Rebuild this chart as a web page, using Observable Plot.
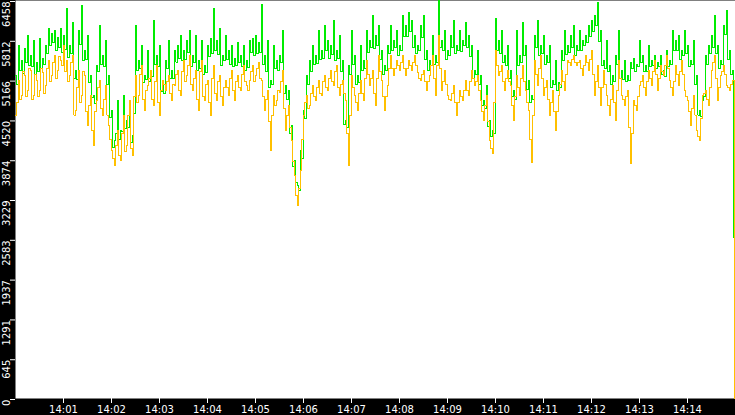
<!DOCTYPE html>
<html>
<head>
<meta charset="utf-8">
<script src="https://cdn.jsdelivr.net/npm/d3@7"></script>
<script src="https://cdn.jsdelivr.net/npm/@observablehq/plot@0.6"></script>
<style>
  html, body { margin: 0; padding: 0; background: #000; }
  #chart { width: 735px; height: 415px; overflow: hidden; }
</style>
</head>
<body>
<div id="chart"></div>
<script>
// ---- data ----
const startTime = "14:00:00";      // first sample
const endTime = "14:15:00";        // right edge of the chart
const sampleSeconds = 1.875;       // nominal spacing of samples
const clockSeconds = 1.25;         // timestamps are recorded on this clock
const greenLastSeconds = 897.5;    // time of green's final (drop) sample
const orangeLastSeconds = 898.75;  // time of orange's final (drop) sample

const xTickLabels = ["14:01","14:02","14:03","14:04","14:05","14:06","14:07","14:08","14:09","14:10","14:11","14:12","14:13","14:14"];
const yTickLabels = ["0","645","1291","1937","2583","3229","3874","4520","5166","5812","6458"];

const greenValues = [
  5241,5090,5728,5330,5484,5280,5679,5450,5890,5410,5566,5390,5809,5260,5452,5300,5842,5350,5517,5420,
  5728,5600,6004,5720,5923,5780,5971,5650,5858,5700,6004,5620,5890,5660,6328,5530,5728,5590,6101,5200,
  5322,5180,5971,5750,6377,5480,5647,5500,5890,5120,5241,4880,4917,4790,5403,5300,6052,5420,5566,5380,
  5809,5100,5241,4560,4673,4080,4186,4300,4835,4200,4349,4330,4917,4380,4511,4400,4673,4150,4267,4620,
  6052,5330,5484,5350,5728,5120,5241,5180,5647,5150,5322,5230,6133,5420,5566,5390,5728,4980,5079,4950,
  5484,5350,5809,5200,5322,5190,5647,5460,5728,5520,5890,5480,5647,5500,5809,5620,5971,5380,5566,5450,
  5890,5320,5484,5350,5809,5260,5403,5290,5728,5550,5842,5600,6328,5650,5809,5580,6004,5400,5566,5480,
  5890,5500,5647,5420,5728,5380,5517,5400,5777,5450,5566,5390,5728,5330,5484,5370,5809,5620,5842,5560,
  5890,5600,5777,5620,6393,5420,5566,5300,5809,5050,5160,5090,5728,5350,5484,5330,5566,5450,5971,4950,
  5079,4850,4998,4300,4430,3760,3862,3500,3456,3380,4024,3900,4673,4550,5241,5100,5484,5300,5728,5420,
  5566,5430,5971,5500,5647,5510,6052,5650,5809,5520,5728,5580,6133,5490,5647,5520,5890,5300,5484,4450,
  4511,4400,5403,5250,5971,5420,5566,5100,5241,5120,5728,5330,5484,5360,5971,5620,5809,5700,6215,5680,
  5890,5720,6052,5500,5647,5250,5403,5330,5728,5600,6052,5650,5809,5700,5971,5560,5728,5640,6215,5880,
  6052,5880,6263,5950,6133,5700,5890,5600,5728,5650,6052,5850,6215,5500,5647,5320,5484,5400,5890,5420,
  5566,5450,6458,5700,5809,5650,5971,5500,5647,5560,5890,5700,6133,5600,5728,5650,5971,5630,5809,5720,
  6101,5700,5890,5550,5728,5200,5322,5250,5647,5100,5241,4750,4835,4700,5079,4420,4511,4250,4349,4300,
  6166,5650,5809,5600,5971,5450,5566,5400,5728,5200,5322,4900,4998,4850,5971,5400,5566,5450,6101,5560,
  5728,5020,5160,4800,4917,4850,5890,5700,6133,5560,5728,5590,5890,5420,5566,5450,5728,5050,5160,5100,
  5484,5000,5128,5050,5647,5480,5971,5580,5728,5620,5890,5700,6052,5560,5728,5640,5971,5650,5809,5720,
  5890,5780,6052,5880,6133,5950,6215,6050,6426,5800,5971,5400,5484,5350,5809,5300,5403,5100,5241,5150,
  5566,5420,5971,5200,5322,5180,5484,5150,5241,5160,5452,5350,5517,5300,5420,5380,5809,5450,5566,5300,
  5403,5300,5728,5380,5484,5400,5566,5350,5452,5380,5566,5250,5322,5220,5647,5380,5484,5420,5971,5650,
  5809,5650,5890,5500,5647,5560,5971,5600,5728,5380,5484,5420,5809,5100,5241,4600,4673,4580,4835,4900,
  5566,5420,5728,5600,5890,5700,6215,5600,5728,5350,5484,5420,6052,5900,6296,5500,5647,5250,5322,
  2620
];

const orangeValues = [
  4592,4800,5160,4850,4917,5300,5241,4900,4998,5350,5322,4850,4917,5250,5160,4900,4998,5350,5290,4950,
  5079,5350,5484,5150,5241,5450,5566,5200,5322,5550,5484,5400,5728,5300,5484,5150,5241,5450,5566,4600,
  4673,5050,5322,4800,4917,5300,5241,4650,4430,4750,4917,4350,4105,4650,4835,5050,5160,4700,4592,4850,
  5079,4600,4430,4200,4024,3900,3781,4100,4349,3950,3862,4300,4592,4000,4105,4600,4835,4050,3943,4900,
  5241,4800,4917,5250,5403,4850,4673,5000,5079,5200,5322,4850,4754,5150,5403,4800,4592,5000,5160,5100,
  4998,5150,5241,4950,4835,5100,5079,5250,5322,5000,4917,5300,5484,5150,5241,5400,5566,5100,4998,5200,
  5322,4850,4673,5300,5484,4900,4835,5100,5160,4800,4592,5200,5403,4950,4835,5150,5241,4900,4754,5050,
  5160,5050,4917,5200,5322,5000,4835,5150,5241,5050,4998,5250,5403,5150,5079,5000,5160,5300,5403,5150,
  5241,5350,5452,5200,5160,4900,4673,4850,4998,4500,4024,4600,4917,4750,4835,5000,4965,5150,5322,4700,
  4349,4600,4754,4400,4186,3850,3618,3300,3132,3400,3700,4200,4592,4800,4917,4700,4754,4950,5079,4900,
  4835,5050,5160,4950,4917,5150,5241,5050,4998,5200,5322,5150,5079,5300,5403,5050,4917,5100,5160,4950,
  4835,4300,3781,4600,5241,5050,4917,4800,4673,4950,5160,4950,4835,5200,5484,5250,5079,5200,5322,4950,
  4754,5200,5566,5300,5160,4900,4673,4900,5079,5350,5566,5350,5241,5350,5484,5400,5322,5450,5566,5350,
  5241,5350,5484,5400,5322,5450,5566,5400,5290,5200,5160,5250,5322,5150,4998,5150,5241,5400,5566,5200,
  4917,5400,5890,5350,4998,5150,5322,5100,4917,4850,4835,4950,5079,4800,4592,4800,4998,4900,4835,5000,
  5160,5000,4917,5150,5322,5200,5079,5150,5241,5000,4835,4650,4511,4750,4917,4500,4186,4050,3975,4800,
  5647,5400,5241,5300,5403,5150,4998,5200,5322,5150,5079,4750,4511,4900,5241,5050,4917,5200,5403,5150,
  4998,4800,4673,4200,3829,4600,5484,5250,5079,5350,5566,5200,4917,5050,5160,4850,4592,4800,4998,4650,
  4349,4650,4917,5100,5322,5150,4998,5250,5484,5450,5403,5500,5566,5450,5403,5450,5484,5350,5241,5400,
  5566,5450,5322,5500,5647,5250,4917,5150,5403,5050,4754,5050,5322,5100,4917,4750,4592,4850,5079,4800,
  4511,5000,5484,5200,4917,4850,4754,4900,4998,4400,3813,4300,4835,4750,4673,4900,5079,5150,5241,5050,
  4917,5150,5322,5200,5079,5300,5484,5250,4998,5200,5403,5300,5241,5400,5566,5350,5160,5050,4917,5150,
  5403,5250,5079,5300,5484,5250,4998,4900,4835,4650,4430,4700,4917,4600,4349,4250,4186,4550,4917,4950,
  4998,4850,4754,5050,5322,5450,5566,5200,4835,5050,5241,5300,5403,5250,5079,5050,4998,5100,5160,
  0
];

// ---- build tables ----
const day = "2024-01-01T";
const t0 = new Date(day + startTime + "Z");
const tEnd = new Date(day + endTime + "Z");
function rows(values, lastSeconds) {
  return values.map((v, i) => {
    const s = i === values.length - 1
      ? lastSeconds
      : Math.floor(i * sampleSeconds / clockSeconds) * clockSeconds;
    return {t: new Date(+t0 + s * 1000), v};
  });
}
const greenRows = rows(greenValues, greenLastSeconds);
const orangeRows = rows(orangeValues, orangeLastSeconds);
const xTicks = xTickLabels.map(s => new Date(day + s + ":00Z"));
const yTicks = yTickLabels.map(Number);
const yMax = yTicks[yTicks.length - 1];

const chart = Plot.plot({
  width: 735,
  height: 415,
  marginLeft: 15,
  marginRight: 0,
  marginTop: 0,
  marginBottom: 17,
  style: {background: "#000", color: "#fff", fontFamily: "'DejaVu Sans', sans-serif", fontSize: "10px", overflow: "visible"},
  x: {type: "utc", domain: [t0, tEnd], axis: null},
  y: {domain: [0, yMax], axis: null},
  marks: [
    Plot.frame({fill: "#fff", stroke: null}),
    Plot.line(greenRows, {x: "t", y: "v", stroke: "#00ec00", strokeWidth: 1, curve: "step-after", shapeRendering: "crispEdges"}),
    Plot.line(orangeRows, {x: "t", y: "v", stroke: "#ffc000", strokeWidth: 1, curve: "step-after", shapeRendering: "crispEdges"}),
    Plot.axisX({
      ticks: xTicks,
      tickFormat: d3.utcFormat("%H:%M"),
      tickSize: 5,
      tickPadding: 2,
      stroke: "#fff",
      fill: "#fff",
      fontSize: 10,
      label: null
    }),
    Plot.axisY({
      ticks: yTicks,
      tickFormat: d => String(d),
      tickSize: 5,
      tickPadding: 4,
      tickRotate: -90,
      textAnchor: "end",
      lineAnchor: "middle",
      dy: 1,
      stroke: "#fff",
      fill: "#fff",
      fontFamily: "'DejaVu Sans', sans-serif",
      fontSize: 10,
      label: null
    })
  ]
});
document.getElementById("chart").append(chart);
</script>
</body>
</html>
